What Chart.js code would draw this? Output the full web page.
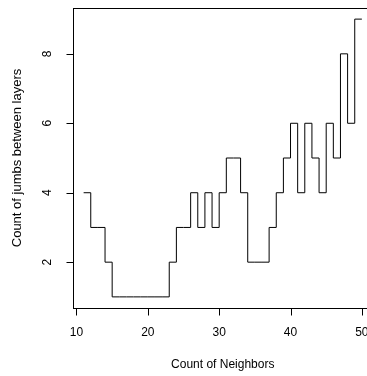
<!DOCTYPE html>
<html>
<head>
<meta charset="utf-8">
<script src="https://cdn.jsdelivr.net/npm/chart.js@4"></script>
<style>
  html, body { margin: 0; padding: 0; background: #fff; overflow: hidden; width: 367px; height: 376px; }
  canvas { display: block; }
</style>
</head>
<body>
<canvas id="stepChart" width="380" height="376"></canvas>
<script>
const neighbors = [11, 12, 13, 14, 15, 16, 17, 18, 19, 20,
                   21, 22, 23, 24, 25, 26, 27, 28, 29, 30,
                   31, 32, 33, 34, 35, 36, 37, 38, 39, 40,
                   41, 42, 43, 44, 45, 46, 47, 48, 49, 50];
const jumps = [4, 3, 3, 2, 1, 1, 1, 1, 1, 1,
               1, 1, 2, 3, 3, 4, 3, 4, 3, 4,
               5, 5, 4, 2, 2, 2, 3, 4, 5, 6,
               4, 6, 5, 4, 6, 5, 8, 6, 9, 9];
const xTicks = [10, 20, 30, 40, 50];
const yTicks = [2, 4, 6, 8];
const xTitle = "Count of Neighbors";
const yTitle = "Count of jumbs between layers";

const FONT = '12px "Liberation Sans", Arial, sans-serif';
const YTITLE_FONT = '13px "Liberation Sans", Arial, sans-serif';

// plain R-like box, ticks and titles on top of the step line
const baseAxes = {
  id: "baseAxes",
  afterDraw(chart) {
    const ctx = chart.ctx;
    const a = chart.chartArea;
    const sx = chart.scales.x, sy = chart.scales.y;
    ctx.save();
    ctx.strokeStyle = "#000";
    ctx.fillStyle = "#000";
    ctx.lineWidth = 1;
    ctx.strokeRect(Math.round(a.left) + 0.5, Math.round(a.top) + 0.5,
                   Math.round(a.right - a.left), Math.round(a.bottom - a.top));

    const yb = Math.round(a.bottom) + 0.5;
    const xl = Math.round(a.left) + 0.5;
    ctx.font = FONT;

    // x axis
    ctx.beginPath();
    ctx.moveTo(Math.round(sx.getPixelForValue(xTicks[0])) + 0.5, yb);
    ctx.lineTo(Math.round(sx.getPixelForValue(xTicks[xTicks.length - 1])) + 0.5, yb);
    xTicks.forEach(v => {
      const px = Math.round(sx.getPixelForValue(v)) + 0.5;
      ctx.moveTo(px, yb);
      ctx.lineTo(px, yb + 7);
    });
    ctx.stroke();
    ctx.textAlign = "center";
    ctx.textBaseline = "middle";
    xTicks.forEach(v => ctx.fillText(String(v), sx.getPixelForValue(v), 333));
    ctx.fillText(xTitle, (a.left + a.right) / 2, 365);

    // y axis
    ctx.beginPath();
    ctx.moveTo(xl, Math.round(sy.getPixelForValue(yTicks[0])) + 0.5);
    ctx.lineTo(xl, Math.round(sy.getPixelForValue(yTicks[yTicks.length - 1])) + 0.5);
    yTicks.forEach(v => {
      const py = Math.round(sy.getPixelForValue(v)) + 0.5;
      ctx.moveTo(xl, py);
      ctx.lineTo(xl - 7, py);
    });
    ctx.stroke();
    yTicks.forEach(v => {
      ctx.save();
      ctx.translate(48, sy.getPixelForValue(v));
      ctx.rotate(-Math.PI / 2);
      ctx.fillText(String(v), 0, 0);
      ctx.restore();
    });
    ctx.save();
    ctx.font = YTITLE_FONT;
    ctx.translate(17, (a.top + a.bottom) / 2);
    ctx.rotate(-Math.PI / 2);
    ctx.fillText(yTitle, 0, 0);
    ctx.restore();
    ctx.restore();
  }
};

new Chart(document.getElementById("stepChart"), {
  type: "line",
  data: {
    datasets: [{
      data: neighbors.map((n, i) => ({ x: n, y: jumps[i] })),
      stepped: true,
      borderColor: "#000",
      borderWidth: 1,
      pointRadius: 0,
      fill: false
    }]
  },
  options: {
    responsive: false,
    animation: false,
    layout: { padding: { left: 72.5, right: 7, top: 8, bottom: 68 } },
    plugins: { legend: { display: false }, tooltip: { enabled: false } },
    scales: {
      x: { type: "linear", min: 9.44, max: 51.56, display: false },
      y: { type: "linear", min: 0.68, max: 9.32, display: false }
    }
  },
  plugins: [baseAxes]
});
</script>
</body>
</html>
